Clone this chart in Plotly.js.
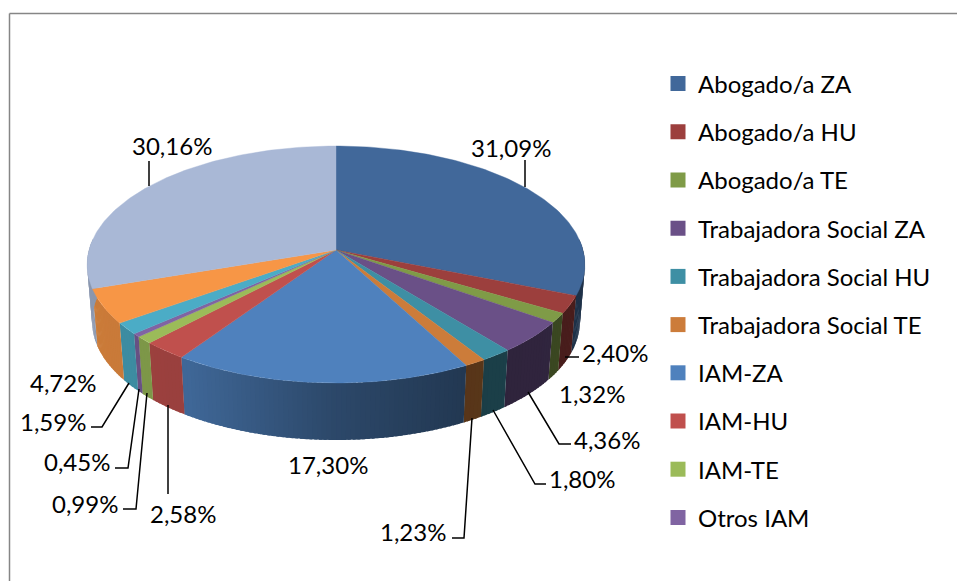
<!DOCTYPE html>
<html><head><meta charset="utf-8">
<script src="https://cdn.plot.ly/plotly-3.0.1.min.js"></script>
<style>html,body{margin:0;padding:0;background:#fff}#c{width:957px;height:581px}</style>
</head><body><div id="c"></div>
<script>
const categories = ["Abogado/a ZA","Abogado/a HU","Abogado/a TE","Trabajadora Social ZA","Trabajadora Social HU","Trabajadora Social TE","IAM-ZA","IAM-HU","IAM-TE","Otros IAM","(sin leyenda 11)","(sin leyenda 12)","(sin leyenda 13)"];
const values = [31.09,2.40,1.32,4.36,1.80,1.23,17.30,2.58,0.99,0.45,1.59,4.72,30.16];
const colors = ["#41689a","#9c3f3d","#7f9b47","#6a5087","#3e8fa4","#cc7c3a","#4f81bd","#c0504d","#9bbb59","#8064a2","#4bacc6","#f79646","#a9b8d6"];
const legendCount = 10;
const labelPos = [[511,147],[615,352],[592,393],[607,439],[582,478],[413,531],[328,464],[183,513],[85,503],[77,461],[53,421],[63,382],[172,145]];
const leaders = [
 [[525,160],[525,187]],
 [[565,357],[579,357]],
 [],
 [[528,392],[559,444],[571,444]],
 [[493,410],[535,484],[546,484]],
 [[472,418],[464,538],[452,538]],
 [],
 [[168,405],[168,494]],
 [[147,393],[136,509],[123,509]],
 [[139,389],[128,468],[115,468]],
 [[129,383],[102,427],[91,427]],
 [],
 [[149,161],[149,186]]
];
// pie projection
const CX=336, CY=250, A=116.7, B=247, K=0.1224, DEPTH=57;
function rimTop(t){const u=Math.sin(t),v=Math.cos(t),d=1+K*v;return [CX+B*u/d, CY-A*v/d];}
function rimBot(t){const p=rimTop(t);return [CX+(p[0]-CX)*0.98, p[1]+DEPTH];}
function shade(x){
  const xs=[85,185,330,470,585], fs=[0.82,0.8,0.56,0.43,0.47];
  if(x<=xs[0])return fs[0];
  for(let i=1;i<xs.length;i++) if(x<=xs[i]) return fs[i-1]+(fs[i]-fs[i-1])*(x-xs[i-1])/(xs[i]-xs[i-1]);
  return fs[fs.length-1];
}
function dark(hex,f){const n=parseInt(hex.slice(1),16);return `rgb(${Math.round((n>>16)*f)},${Math.round(((n>>8)&255)*f)},${Math.round((n&255)*f)})`;}
const total=values.reduce((a,b)=>a+b,0);
const traces=[];
let acc=0;
const spans=values.map(v=>{const s=acc/total*2*Math.PI;acc+=v;return [s,acc/total*2*Math.PI];});
const STEP=Math.PI/180;
// side wall: strips overlap the next one so that no seams show
spans.forEach((sp,i)=>{
  const s=Math.max(sp[0],Math.PI/2-0.1), e=Math.min(sp[1],3*Math.PI/2+0.1);
  if(e<=s)return;
  for(let a=s;a<e-1e-6;a+=STEP){
    const b=Math.min(a+STEP*1.6,e);
    const p=[rimTop(a),rimTop(b),rimBot(b),rimBot(a),rimTop(a)];
    const c=dark(colors[i],shade((p[0][0]+p[1][0])/2));
    traces.push({type:'scatter',mode:'none',x:p.map(q=>q[0]),y:p.map(q=>q[1]),fill:'toself',fillcolor:c,hoverinfo:'skip',showlegend:false});
  }
});
// top face
spans.forEach((sp,i)=>{
  const xs=[CX],ys=[CY];
  const n=Math.max(2,Math.ceil((sp[1]-sp[0])/STEP));
  for(let k=0;k<=n;k++){const p=rimTop(sp[0]+(sp[1]-sp[0])*k/n);xs.push(p[0]);ys.push(p[1]);}
  xs.push(CX);ys.push(CY);
  traces.push({type:'scatter',mode:'lines',name:categories[i],x:xs,y:ys,fill:'toself',fillcolor:colors[i],line:{color:colors[i],width:0.4},hoverinfo:'name',showlegend:false});
});
// leader lines
leaders.forEach(l=>{ if(!l.length)return;
  traces.push({type:'scatter',mode:'lines',x:l.map(q=>q[0]),y:l.map(q=>q[1]),line:{color:'#000',width:1.5},hoverinfo:'skip',showlegend:false});
});
// legend entries
categories.slice(0,legendCount).forEach((c,i)=>{
  traces.push({type:'scatter',mode:'markers',name:c,x:[null],y:[null],legendgroup:'g'+i,marker:{symbol:'square',size:15,color:colors[i]},hoverinfo:'skip'});
});
const FONT='Lato, Carlito, sans-serif';
const fmt=v=>v.toFixed(2).replace('.',',')+'%';
const annotations=values.map((v,i)=>({x:labelPos[i][0],y:labelPos[i][1],xref:'x',yref:'y',text:fmt(v),showarrow:false,xanchor:'center',yanchor:'middle',font:{family:FONT,size:24,color:'#000'}}));
const layout={width:957,height:581,margin:{l:0,r:0,t:0,b:0},paper_bgcolor:'#fff',plot_bgcolor:'#fff',
 xaxis:{range:[0,957],visible:false,fixedrange:true},
 yaxis:{range:[581,0],visible:false,fixedrange:true},
 showlegend:true,
 legend:{x:666/957,xanchor:'left',y:1-61.5/581,yanchor:'top',bgcolor:'rgba(0,0,0,0)',font:{family:FONT,size:24,color:'#000'},traceorder:'grouped',tracegroupgap:14,indentation:-8,itemclick:false,itemdoubleclick:false},
 shapes:[
  {type:'line',xref:'paper',yref:'paper',x0:9.5/957,x1:9.5/957,y0:0,y1:1-13.5/581,line:{color:'#868686',width:1.5}},
  {type:'line',xref:'paper',yref:'paper',x0:9.5/957,x1:1,y0:1-13.5/581,y1:1-13.5/581,line:{color:'#868686',width:1.5}}
 ],
 annotations};
Plotly.newPlot('c',traces,layout,{displayModeBar:false});
</script></body></html>
